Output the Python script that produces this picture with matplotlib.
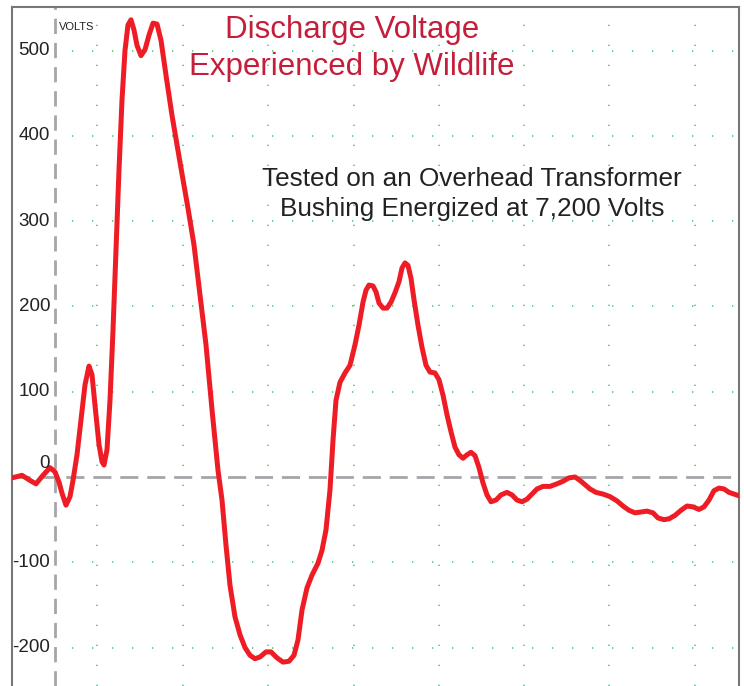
import matplotlib.pyplot as plt
import numpy as np

# Trace of the discharge (x in sample units, y in volts)
t = [12, 22, 30, 36, 43, 50, 55, 59, 62, 66, 70, 73, 77, 81, 85, 89, 92, 95, 99, 102,
     104, 107, 110, 113, 116, 119, 122, 125, 128, 131, 134, 137, 141, 145, 149, 153, 157, 161, 166, 172,
     180, 188, 194, 200, 206, 212, 218, 222, 226, 230, 235, 240, 245, 250, 255, 260, 266, 271, 277, 283,
     289, 294, 298, 302, 307, 312, 318, 322, 326, 330, 333, 336, 340, 345, 350, 355, 359, 363, 366, 369,
     373, 376, 379, 383, 387, 391, 395, 399, 402, 405, 408, 411, 414, 418, 422, 426, 430, 435, 439, 443,
     447, 451, 455, 459, 463, 467, 471, 475, 479, 483, 487, 491, 496, 501, 507, 512, 517, 522, 527, 532,
     537, 543, 550, 557, 563, 569, 575, 580, 585, 590, 596, 603, 610, 617, 623, 629, 635, 641, 647, 653,
     658, 664, 669, 675, 681, 687, 693, 699, 704, 709, 714, 719, 724, 729, 734, 739]
volts = [-1, 2, -4, -8, 2, 11, 6, -6, -19, -33, -23, -4, 26, 67, 108, 130, 120, 84, 38, 18,
         14, 32, 90, 172, 266, 360, 442, 500, 530, 536, 524, 506, 494, 501, 518, 532, 531, 512, 471, 424,
         369, 315, 272, 213, 155, 79, 8, -27, -80, -127, -164, -185, -200, -209, -213, -211, -205, -205, -212, -217,
         -216, -209, -191, -156, -130, -115, -101, -86, -62, -15, 43, 90, 111, 122, 131, 155, 178, 205, 219, 225,
         224, 217, 204, 198, 198, 205, 216, 229, 245, 251, 248, 233, 208, 178, 152, 131, 123, 122, 114, 96,
         73, 53, 35, 26, 22, 26, 29, 25, 11, -7, -21, -29, -27, -21, -18, -21, -27, -29, -26, -20,
         -14, -11, -11, -8, -5, -1, 0, -4, -9, -14, -18, -20, -23, -28, -34, -39, -42, -41, -40, -42,
         -48, -50, -49, -45, -39, -34, -35, -38, -35, -27, -16, -13, -14, -18, -20, -22]

ytick_values = [500, 400, 300, 200, 100, 0, -100, -200]
ytick_labels = ['500', '400', '300', '200', '100', '0', '-100', '-200']
grid_x = [97, 183, 268, 354, 439, 524, 609, 695]

fig = plt.figure(figsize=(7.44, 6.86), dpi=100)
ax = fig.add_axes([12 / 744, 0, 727 / 744, 679 / 686])
ax.set_xlim(12, 739)
ax.set_ylim(-245, 551)

green = '#4ccc78'
for gx in grid_x:
    ax.axvline(gx, color=green, lw=1.2, ls=(0, (0.8, 11.2)), zorder=1)
for v in ytick_values:
    if v != 0:
        ax.hlines(v, 72, 739, color=green, lw=1.2, ls=(0, (0.8, 11.2)), zorder=1)

# reference lines
ax.axhline(0, color='#a5a5aa', lw=2, ls=(0, (6.5, 3.2)), zorder=2)
ax.axvline(55, color='#a5a5aa', lw=2, ls=(0, (5.5, 3.2)), zorder=2)

ax.plot(t, volts, color='#ee1c25', lw=3.6, solid_joinstyle='round',
        solid_capstyle='round', zorder=3)

# y labels drawn inside the frame
for v, lab in zip(ytick_values, ytick_labels):
    yy = v + 16 if v == 0 else v
    ax.text(50, yy, lab, ha='right', va='center', fontsize=13.5,
            family='Liberation Sans', color='#222222')
ax.text(59, 528, 'VOLTS', ha='left', va='center', fontsize=8,
        family='Liberation Sans', color='#222222')

ax.text(352, 502, 'Discharge Voltage\nExperienced by Wildlife', ha='center', va='center',
        fontsize=22.5, color='#c41e3a', family='Liberation Sans', linespacing=1.32)
ax.text(472, 332, 'Tested on an Overhead Transformer\nBushing Energized at 7,200 Volts',
        ha='center', va='center', fontsize=18.8, color='#222222',
        family='Liberation Sans', linespacing=1.32)

ax.set_xticks([])
ax.set_yticks([])
for side in ['left', 'top', 'right']:
    ax.spines[side].set_color('#777777')
    ax.spines[side].set_linewidth(1.5)
ax.spines['bottom'].set_visible(False)

fig.savefig('out.png', dpi=100)
